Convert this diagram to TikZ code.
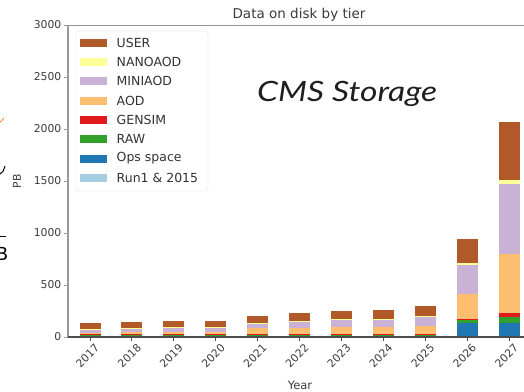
\documentclass[tikz,border=0pt]{standalone}
\usepackage{fontspec}
\setmainfont{DejaVu Sans}
\newfontfamily\slidefont[FakeStretch=1.2]{Lato}
\usepackage{xcolor}

% Paired colour map, one colour per data tier
\definecolor{tier1}{HTML}{A6CEE3} % Run1 & 2015
\definecolor{tier2}{HTML}{1F78B4} % Ops space
\definecolor{tier3}{HTML}{33A02C} % RAW
\definecolor{tier4}{HTML}{E31A1C} % GENSIM
\definecolor{tier5}{HTML}{FDBF6F} % AOD
\definecolor{tier6}{HTML}{CAB2D6} % MINIAOD
\definecolor{tier7}{HTML}{FFFF99} % NANOAOD
\definecolor{tier8}{HTML}{B15928} % USER
\definecolor{labelgray}{HTML}{3C3C3C}

% stacked bar: #1 = centre x, #2 = values (PB) from bottom tier to top tier
\newcommand\tierbar[2]{%
  \gdef\tieracc{0}%
  \foreach \v [count=\k] in {#2} {%
    \pgfmathsetmacro\tlo{\tieracc}%
    \pgfmathsetmacro\thi{\tieracc+\v}%
    \xdef\tieracc{\thi}%
    \fill[tier\k] (#1-10.5, {337-0.104*\tlo}) rectangle (#1+10.5, {337-0.104*\thi});
  }%
}

\tikzset{
  ticklab/.style={font=\fontsize{10.8}{12}\selectfont, text=labelgray, inner sep=0pt},
  yearlab/.style={ticklab, rotate=45},
  legpatch/.style={minimum width=27pt, minimum height=8pt, inner sep=0pt},
  legtext/.style={font=\fontsize{12.5}{14}\selectfont, text=black!80, anchor=west, inner sep=0pt},
}

\begin{document}
\begin{tikzpicture}[x=1pt,y=-1pt]
\useasboundingbox (0,0) rectangle (524,391);
\fill[white] (0,0) rectangle (524,391);

% axes frame
\coordinate (origin) at (68,337);
\coordinate (topleft) at (68,25);
\coordinate (topright) at (524,25);
\coordinate (bottomright) at (524,337);
\draw[gray!85, line width=0.9pt] (topleft) -- (topright);

% bars
\tierbar{90.0}{3,5,8,10,15,38,2,56}
\tierbar{131.9}{3,6,8,12,18,40,2,55}
\tierbar{173.8}{3,6,8,12,22,45,2,59}
\tierbar{215.7}{3,6,8,10,25,45,2,58}
\tierbar{257.6}{2,14,6,4,58,51,2,68}
\tierbar{299.5}{2,16,5,3,63,63,2,74}
\tierbar{341.4}{2,16,5,3,73,69,2,80}
\tierbar{383.3}{2,16,5,3,73,69,2,90}
\tierbar{425.2}{2,16,5,3,80,94,2,96}
\tierbar{467.1}{2,135,30,3,240,282,17,230}
\tierbar{509.0}{2,135,60,30,568,676,39,560}

% spines
\draw[gray!80, line width=1.3pt] (origin) -- (topleft);
\draw[black!70, line width=1.1pt] (origin) -- (bottomright);

% y ticks and labels
\foreach \val [count=\i] in {0,500,1000,1500,2000,2500,3000} {
  \draw[gray!80, line width=0.9pt] (64,{337-0.104*\val}) -- (68,{337-0.104*\val});
  \node[ticklab, anchor=east] (ylab\i) at (61.5,{337-0.104*\val}) {\val};
}
\node[ticklab, rotate=90] (ytitle) at (17,181.5) {PB};

% x ticks and labels
\foreach \yr [count=\i] in {2017,2018,2019,2020,2021,2022,2023,2024,2025,2026,2027} {
  \pgfmathsetmacro\xc{90+41.9*(\i-1)}
  \draw[black!70, line width=0.9pt] (\xc,337) -- (\xc,341);
  \node[yearlab] (xlab\i) at (\xc-2.5,356) {\yr};
}
\node[ticklab, font=\fontsize{11.5}{13}\selectfont] (xtitle) at (300,385) {Year};

% title
\node[font=\fontsize{13.5}{15}\selectfont, text=labelgray, anchor=base, inner sep=0pt]
  (title) at (299,18.3) {Data on disk by tier};

% legend
\node[draw=gray!25, fill=white, rounded corners=3pt, minimum width=132pt, minimum height=160pt,
  inner sep=0pt] (legend) at (142,111) {};
\foreach \name/\col [count=\i] in {USER/tier8, NANOAOD/tier7, MINIAOD/tier6, AOD/tier5,
    GENSIM/tier4, RAW/tier3, Ops space/tier2, Run1 \& 2015/tier1} {
  \node[legpatch, fill=\col] (patch\i) at (93.5,{42.7+19.3*(\i-1)}) {};
  \node[legtext] (entry\i) at (116.5,{42.7+19.3*(\i-1)}) {\name};
}

% slide caption
\node[font=\slidefont\itshape\fontsize{28}{32}\selectfont, text=black!88, anchor=base west, inner sep=0pt]
  (caption) at (257,101.7) {CMS Storage};

% fragments of neighbouring slide text at the left edge
\draw[orange!70!red, line width=0.6pt] (0,122) .. controls (2,121) .. (3.5,118);
\draw[black, line width=1pt] (0,174) .. controls (3,172) .. (5,166);
\draw[black, line width=0.8pt] (0,236) -- (6,236);
\node[font=\fontsize{18}{20}\selectfont, anchor=base east, inner sep=0pt] (frag) at (8.5,260) {B};
\end{tikzpicture}
\end{document}
